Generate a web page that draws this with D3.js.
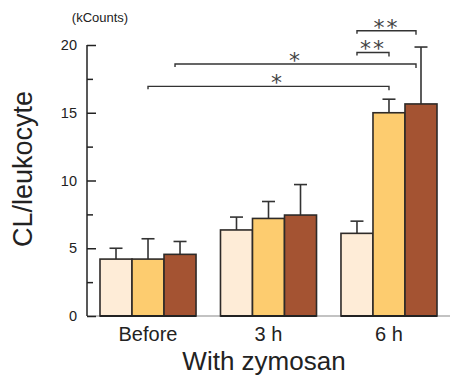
<!DOCTYPE html>
<html>
<head>
<meta charset="utf-8">
<script src="https://cdn.jsdelivr.net/npm/d3@7"></script>
<style>
  body { margin: 0; background: #fff; }
  text { font-family: "Liberation Sans", Arial, sans-serif; fill: #222; }
</style>
</head>
<body>
<div id="chart"></div>
<script>
// chart data
const groups = ["Before", "3 h", "6 h"]
const series = ["s1", "s2", "s3"]
const means = [
    [4.2, 4.2, 4.55],
    [6.35, 7.2, 7.45],
    [6.1, 15.0, 15.65]
]
const errors = [
    [0.8, 1.5, 0.95],
    [0.95, 1.25, 2.25],
    [0.9, 1.0, 4.2]
]
const majorTicks = [0, 5, 10, 15, 20]
const minorTicks = [2.5, 7.5, 12.5, 17.5]
// significance brackets: [group, series] -> [group, series], level in kCounts
const brackets = [
    {from: [2, 0], to: [2, 2], level: 21.05, label: "**"},
    {from: [2, 0], to: [2, 1], level: 19.45, label: "**"},
    {from: [0, 2], to: [2, 2], level: 18.6, label: "*"},
    {from: [0, 1], to: [2, 1], level: 16.95, label: "*"}
]
const colours = ["#feecd7", "#fdcc6f", "#a45332"]

const width = 450, height = 380
const axisX = 87

const svg = d3.select("#chart").append("svg")
    .attr("width", width)
    .attr("height", height)

const y = d3.scaleLinear().domain([0, 20]).range([316, 45])

const x0 = d3.scaleBand()
    .domain(groups)
    .range([100, 437])
    .paddingInner(0.203)
    .paddingOuter(0)

const x1 = d3.scaleBand()
    .domain(series)
    .range([0, x0.bandwidth()])

// baseline
svg.append("line")
    .attr("x1", axisX).attr("x2", 450)
    .attr("y1", y(0)).attr("y2", y(0))
    .attr("stroke", "#888").attr("stroke-width", 1.2)

// y axis, ticks pointing inward
const yAxis = svg.append("g")
    .attr("transform", `translate(${axisX},0)`)
    .call(d3.axisRight(y).tickValues(majorTicks).tickSize(9).tickFormat(""))
yAxis.select(".domain").attr("stroke", "#222").attr("stroke-width", 1.5).attr("d", `M0,${y(0)}V${y(20)}`)
yAxis.selectAll(".tick line").attr("stroke", "#222").attr("stroke-width", 1.5)

const yMinor = svg.append("g")
    .attr("transform", `translate(${axisX},0)`)
    .call(d3.axisRight(y).tickValues(minorTicks).tickSize(6).tickFormat(""))
yMinor.select(".domain").remove()
yMinor.selectAll(".tick line").attr("stroke", "#222").attr("stroke-width", 1.5)

svg.append("g").selectAll("text")
    .data(majorTicks)
    .join("text")
    .attr("x", axisX - 10)
    .attr("y", d => y(d) + 5)
    .attr("text-anchor", "end")
    .style("font-size", "14.5px")
    .text(d => d)

// bars
const groupG = svg.selectAll(".grp")
    .data(groups)
    .join("g")
    .attr("class", "grp")
    .attr("transform", d => `translate(${x0(d)},0)`)

groupG.each(function(g, gi) {
    const sel = d3.select(this)
    const rows = series.map((s, si) => ({s, si, m: means[gi][si], e: errors[gi][si]}))

    // error bars (one-sided, upward)
    sel.selectAll(".err")
        .data(rows)
        .join("line")
        .attr("x1", d => x1(d.s) + x1.bandwidth() / 2)
        .attr("x2", d => x1(d.s) + x1.bandwidth() / 2)
        .attr("y1", d => y(d.m))
        .attr("y2", d => y(d.m + d.e))
        .attr("stroke", "#333").attr("stroke-width", 1.6)
    sel.selectAll(".cap")
        .data(rows)
        .join("line")
        .attr("x1", d => x1(d.s) + x1.bandwidth() / 2 - 6.5)
        .attr("x2", d => x1(d.s) + x1.bandwidth() / 2 + 6.5)
        .attr("y1", d => y(d.m + d.e))
        .attr("y2", d => y(d.m + d.e))
        .attr("stroke", "#333").attr("stroke-width", 1.6)

    sel.selectAll("rect")
        .data(rows)
        .join("rect")
        .attr("x", d => x1(d.s))
        .attr("y", d => y(d.m))
        .attr("width", x1.bandwidth())
        .attr("height", d => y(0) - y(d.m))
        .attr("fill", d => colours[d.si])
        .attr("stroke", "#2e2a28")
        .attr("stroke-width", 1.6)

    // thick bottom edge
    sel.append("line")
        .attr("x1", 0).attr("x2", x0.bandwidth())
        .attr("y1", y(0)).attr("y2", y(0))
        .attr("stroke", "#222").attr("stroke-width", 2.2)
})

// category labels
svg.append("g").selectAll("text")
    .data(groups)
    .join("text")
    .attr("x", d => x0(d) + x0.bandwidth() / 2)
    .attr("y", 341)
    .attr("text-anchor", "middle")
    .style("font-size", "20px")
    .text(d => d)

// significance brackets
const barCenter = ([gi, si]) => x0(groups[gi]) + x1(series[si]) + x1.bandwidth() / 2 - (si === 2 ? 5 : 0)
brackets.forEach((b, i) => {
    const xa = barCenter(b.from), xb = barCenter(b.to), yy = y(b.level)
    svg.append("path")
        .attr("d", `M${xa},${yy + 3}V${yy}H${xb}V${yy + 4}`)
        .attr("fill", "none")
        .attr("stroke", "#333")
        .attr("stroke-width", 1.4)
    svg.append("text")
        .attr("x", (xa + xb) / 2 + (i === 3 ? 9 : 0))
        .attr("y", yy + 4)
        .attr("text-anchor", "middle")
        .style("font-family", "'DejaVu Sans', sans-serif")
        .style("font-size", "22px")
        .style("fill", "#444")
        .style("letter-spacing", "2px")
        .text(b.label)
})

// titles
svg.append("text")
    .attr("x", 100)
    .attr("y", 22)
    .attr("text-anchor", "middle")
    .style("font-size", "13px")
    .text("(kCounts)")

svg.append("text")
    .attr("transform", "translate(32,169) rotate(-90)")
    .attr("text-anchor", "middle")
    .style("font-size", "27px")
    .text("CL/leukocyte")

svg.append("text")
    .attr("x", 264)
    .attr("y", 370)
    .attr("text-anchor", "middle")
    .style("font-size", "26px")
    .text("With zymosan")
</script>
</body>
</html>
